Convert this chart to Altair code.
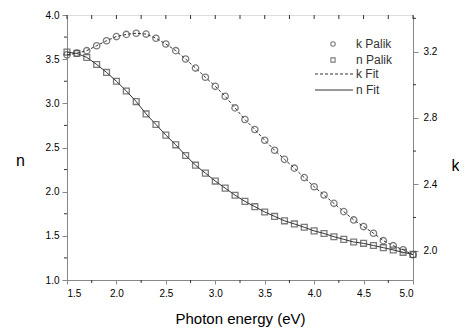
import altair as alt
import pandas as pd

# ---- data ----
energy = [1.5, 1.6, 1.7, 1.8, 1.9, 2.0, 2.1, 2.2, 2.3, 2.4, 2.5, 2.6, 2.7, 2.8, 2.9,
          3.0, 3.1, 3.2, 3.3, 3.4, 3.5, 3.6, 3.7, 3.8, 3.9, 4.0, 4.1, 4.2, 4.3, 4.4,
          4.5, 4.6, 4.7, 4.8, 4.9, 5.0]
n_palik = [3.58, 3.565, 3.52, 3.44, 3.35, 3.25, 3.14, 3.02, 2.88, 2.76, 2.64, 2.53,
           2.41, 2.30, 2.21, 2.12, 2.04, 1.96, 1.89, 1.83, 1.77, 1.72, 1.67, 1.635,
           1.597, 1.556, 1.527, 1.49, 1.46, 1.43, 1.415, 1.39, 1.366, 1.34, 1.313, 1.29]
k_palik = [3.18, 3.19, 3.205, 3.235, 3.265, 3.29, 3.303, 3.31, 3.305, 3.28, 3.245,
           3.205, 3.155, 3.10, 3.045, 2.99, 2.93, 2.86, 2.79, 2.73, 2.665, 2.605, 2.55,
           2.497, 2.44, 2.385, 2.335, 2.285, 2.235, 2.185, 2.145, 2.105, 2.06, 2.03,
           2.005, 1.975]
n_fit = list(n_palik)
k_fit = list(k_palik)

x_major = [1.5, 2.0, 2.5, 3.0, 3.5, 4.0, 4.5, 5.0]
x_minor = [1.75, 2.25, 2.75, 3.25, 3.75, 4.25, 4.75]
x_all = sorted(x_major + x_minor)
n_major = [1.0, 1.5, 2.0, 2.5, 3.0, 3.5, 4.0]
n_minor = [1.25, 1.75, 2.25, 2.75, 3.25, 3.75]
k_major = [2.0, 2.4, 2.8, 3.2]
k_minor = [2.2, 2.6, 3.0, 3.4]

W, H = 346, 265
INK = "#333333"
MARK = "#444444"
FONT = "Liberation Sans"

df = pd.DataFrame({"E": energy, "n": n_palik, "k": k_palik, "nfit": n_fit, "kfit": k_fit})

xscale = alt.Scale(domain=[1.5, 5.0], nice=False, zero=False, padding=0)
nscale = alt.Scale(domain=[1.0, 4.0], nice=False, zero=False, padding=0)
kscale = alt.Scale(domain=[1.823, 3.42], nice=False, zero=False, padding=0)

xaxis = alt.Axis(values=x_major, format=".1f", title="Photon energy (eV)",
                 tickSize=4, labelPadding=4, titleFontSize=15, titleFontWeight="normal",
                 titleBaseline="bottom", titleY=46, grid=False)

base = alt.Chart(df)

n_line = base.mark_line(color=INK, strokeWidth=1).encode(
    x=alt.X("E:Q", scale=xscale, axis=xaxis),
    y=alt.Y("nfit:Q", scale=nscale,
            axis=alt.Axis(values=n_major, format=".1f", title="n", titleAngle=0,
                          titleX=-47, titleY=145, titleBaseline="middle", titleAlign="center",
                          titleFontSize=16, titleFontWeight="normal", tickSize=5,
                          labelPadding=3, grid=False)),
)
n_pts = base.mark_point(shape="square", filled=False, color=MARK, size=34, strokeWidth=1.3).encode(
    x=alt.X("E:Q", scale=xscale),
    y=alt.Y("n:Q", scale=nscale),
)

k_line = base.mark_line(color=INK, strokeWidth=1, strokeDash=[3, 2]).encode(
    x=alt.X("E:Q", scale=xscale),
    y=alt.Y("kfit:Q", scale=kscale,
            axis=alt.Axis(orient="right", values=k_major, format=".1f", title="k",
                          titleAngle=0, titleX=42, titleY=150, titleBaseline="middle",
                          titleAlign="center", titleFontSize=16, titleFontWeight="normal",
                          tickSize=5, labelPadding=5, grid=False)),
)
k_pts = base.mark_point(shape="circle", filled=False, color=MARK, size=40, strokeWidth=1.3).encode(
    x=alt.X("E:Q", scale=xscale),
    y=alt.Y("k:Q", scale=kscale),
)

# minor / mirror ticks
ticks_top = alt.Chart(pd.DataFrame({"v": x_all})).mark_rule(color=INK).encode(
    x=alt.X("v:Q", scale=xscale), y=alt.value(0), y2=alt.value(4))
ticks_bot = alt.Chart(pd.DataFrame({"v": x_minor})).mark_rule(color=INK).encode(
    x=alt.X("v:Q", scale=xscale), y=alt.value(H), y2=alt.value(H + 3))
ticks_left = alt.Chart(pd.DataFrame({"v": n_minor})).mark_rule(color=INK).encode(
    y=alt.Y("v:Q", scale=nscale), x=alt.value(-3), x2=alt.value(0))
ticks_right = alt.Chart(pd.DataFrame({"v": k_minor})).mark_rule(color=INK).encode(
    y=alt.Y("v:Q", scale=kscale), x=alt.value(W), x2=alt.value(W + 3))

# legend
def one(txt):
    return alt.Chart(pd.DataFrame({"t": [txt]}))

leg_c = one("c").mark_point(shape="circle", filled=False, color=MARK, size=20, strokeWidth=1.1).encode(
    x=alt.value(266), y=alt.value(29))
leg_s = one("s").mark_point(shape="square", filled=False, color=MARK, size=18, strokeWidth=1.1).encode(
    x=alt.value(266), y=alt.value(45))
leg_d = one("d").mark_rule(color=INK, strokeWidth=1, strokeDash=[3, 2]).encode(
    x=alt.value(248), x2=alt.value(286), y=alt.value(59))
leg_l = one("l").mark_rule(color=INK, strokeWidth=1).encode(
    x=alt.value(248), x2=alt.value(286), y=alt.value(75))
leg_txt = []
for lab, yy in [("k Palik", 29), ("n Palik", 45), ("k Fit", 59), ("n Fit", 75)]:
    leg_txt.append(one(lab).mark_text(align="left", baseline="middle", fontSize=12,
                                      font=FONT, color=INK).encode(
        x=alt.value(289), y=alt.value(yy), text="t:N"))

left = alt.layer(n_line, n_pts, ticks_left, ticks_top, ticks_bot, leg_c, leg_s, leg_d, leg_l, *leg_txt)
right = alt.layer(k_line, k_pts, ticks_right)

chart = alt.layer(left, right).resolve_scale(y="independent").properties(
    width=W, height=H,
    autosize=alt.AutoSizeParams(type="none"),
    padding={"left": 59, "top": 7, "right": 46, "bottom": 47},
).configure_view(stroke=INK, strokeWidth=1.2).configure_axis(
    domainColor=INK, tickColor=INK, labelColor="#444444", titleColor="#444444",
    labelFont=FONT, titleFont=FONT, labelFontSize=12, domainWidth=1.2,
).configure(background="white")

chart.save("out.html", embed_options={"renderer": "svg", "actions": False})
